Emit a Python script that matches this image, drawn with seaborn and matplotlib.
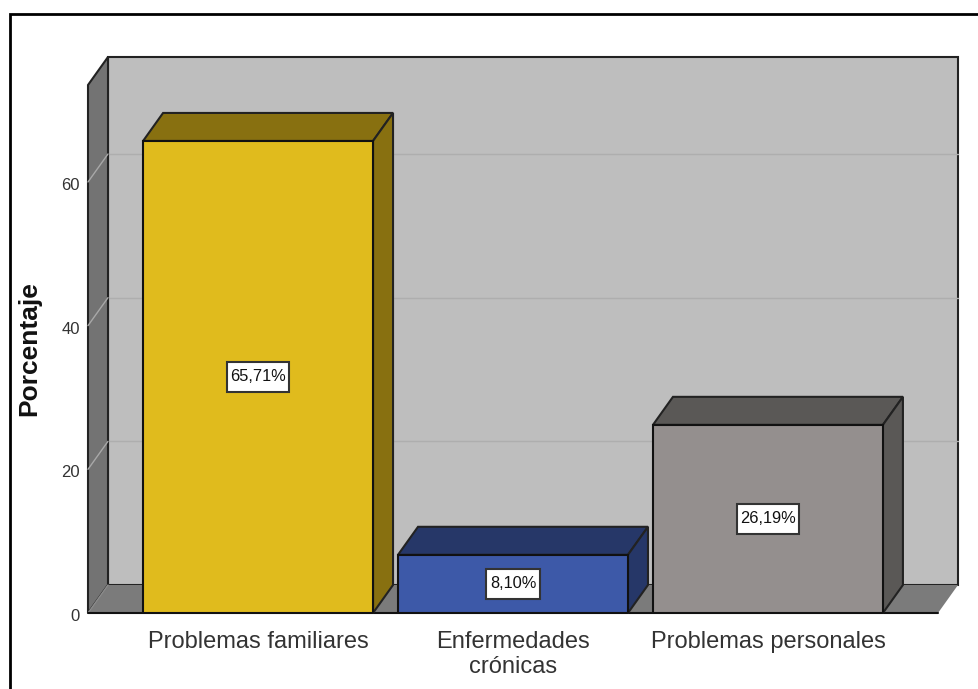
import numpy as np
import pandas as pd
import matplotlib
matplotlib.use('Agg')
import matplotlib.pyplot as plt
from matplotlib.patches import Polygon, Rectangle
from matplotlib.transforms import ScaledTranslation
import seaborn as sns

categorias = ['Problemas familiares', 'Enfermedades\ncrónicas', 'Problemas personales']
porcentajes = [65.71, 8.10, 26.19]
etiquetas = ['65,71%', '8,10%', '26,19%']
colores = ['#e0bb1d', '#3d59a8', '#948f8e']
colores_oscuros = ['#887010', '#263768', '#5a5856']
ticks_y = [0, 20, 40, 60]

sns.set_theme(style='white')
plt.rcParams['font.family'] = ['Liberation Sans', 'DejaVu Sans']

W, H = 979, 689
fig = plt.figure(figsize=(W / 100, H / 100), dpi=100)
# ejes frontales en pixeles: x 88-938, y 85-613
ax = fig.add_axes([88 / W, 1 - 613 / H, 850 / W, 528 / H])

df = pd.DataFrame({'categoria': categorias, 'porcentaje': porcentajes})
sns.barplot(data=df, x='categoria', y='porcentaje', hue='categoria', palette=colores,
            width=0.902, saturation=1, legend=False, edgecolor='#111111', linewidth=1.5,
            zorder=5, ax=ax)

ax.set_xlim(-0.667, 2.667)
ax.set_ylim(0, 73.5)

# profundidad del grafico 3D, en unidades de datos
px_x = 1 / 255
px_y = 1 / 7.18
dx = 20 * px_x
dy = 28 * px_y
x0, x1 = ax.get_xlim()
y1 = ax.get_ylim()[1]
borde = dict(edgecolor='#222222', linewidth=1.5, clip_on=False)

# paredes
ax.add_patch(Rectangle((x0 + dx, dy), x1 - x0, y1, facecolor='#bebebe', zorder=1, **borde))
ax.add_patch(Polygon([(x0, 0), (x0 + dx, dy), (x0 + dx, y1 + dy), (x0, y1)],
                     facecolor='#737373', zorder=2, **borde))
ax.add_patch(Polygon([(x0, 0), (x0 + dx, dy), (x1 + dx, dy), (x1, 0)],
                     facecolor='#7b7b7b', edgecolor='none', clip_on=False, zorder=2))
ax.plot([x0, x1], [0, 0], color='#111111', lw=1.5, clip_on=False, zorder=3)

# lineas de cuadricula
for t in ticks_y[1:]:
    ax.plot([x0 + dx, x1 + dx], [t + dy, t + dy], color='#aeaeae', lw=1, clip_on=False, zorder=1.5)
    ax.plot([x0, x0 + dx], [t, t + dy], color='#a8a8a8', lw=1, clip_on=False, zorder=2.5)
ax.plot([x0, x0 + dx], [0, dy], color='#8c8c8c', lw=1, clip_on=False, zorder=2.5)

# caras de las barras
for bar, oscuro in zip(ax.patches[:3], colores_oscuros):
    xa, xb = bar.get_x(), bar.get_x() + bar.get_width()
    h = bar.get_height()
    ax.add_patch(Polygon([(xa, h), (xa + dx, h + dy), (xb + dx, h + dy), (xb, h)],
                         facecolor=oscuro, zorder=4, **borde))
    ax.add_patch(Polygon([(xb, 0), (xb + dx, dy), (xb + dx, h + dy), (xb, h)],
                         facecolor=oscuro, zorder=4, **borde))

# etiquetas con caja blanca, la caja se ajusta al ancho del texto
renderer = fig.canvas.get_renderer()
for i, (v, txt) in enumerate(zip(porcentajes, etiquetas)):
    t = ax.text(i, v / 2, txt, ha='center', va='center', fontsize=11.8, color='#111111', zorder=7)
    ancho = (t.get_window_extent(renderer).width + 7) * px_x
    alto = 30 * px_y
    ax.add_patch(Rectangle((i - ancho / 2, v / 2 - alto / 2), ancho, alto, facecolor='white',
                           edgecolor='#333333', linewidth=1.5, zorder=6))

sns.despine(ax=ax, left=True, bottom=True, top=True, right=True)
ax.set_yticks(ticks_y)
ax.tick_params(axis='y', labelsize=12, labelcolor='#333333', length=0, pad=6)
ax.tick_params(axis='x', labelsize=17, labelcolor='#333333', length=0, pad=13)
bajar = ScaledTranslation(0, -2 / 100, fig.dpi_scale_trans)
for lab in ax.get_yticklabels():
    lab.set_transform(lab.get_transform() + bajar)
ax.set_xlabel('')
ax.set_ylabel('Porcentaje', fontsize=19, fontweight='bold', color='#111111', labelpad=14)

# marco exterior
fig.add_artist(Rectangle((9.5 / W, -0.05), 1.2, 1 - 14 / H + 0.05, transform=fig.transFigure,
                         facecolor='none', edgecolor='black', linewidth=2))

fig.savefig('out.png', dpi=100)
